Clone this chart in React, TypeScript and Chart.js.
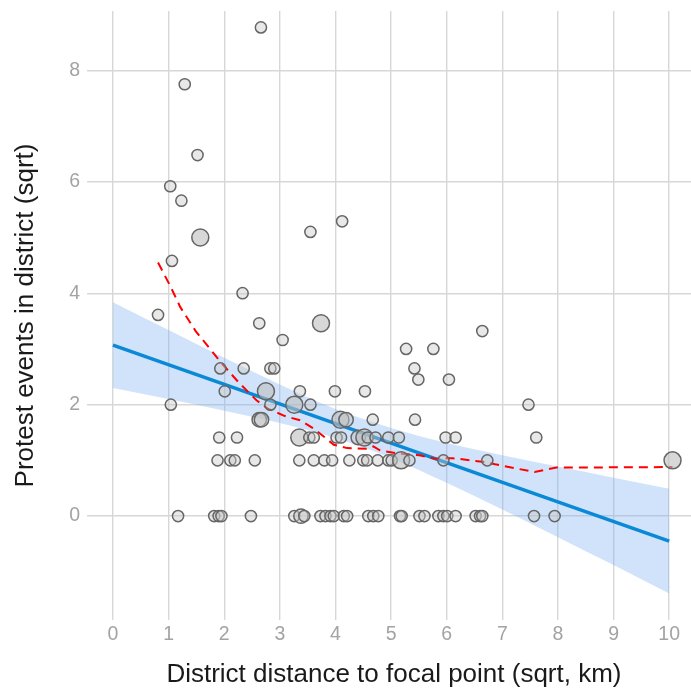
import { useEffect, useRef } from 'react';
import { Chart, registerables } from 'chart.js';

Chart.register(...registerables);

const FONT = "'Liberation Sans', Arial, sans-serif";

const xTicks = [0, 1, 2, 3, 4, 5, 6, 7, 8, 9, 10];
const yTicks = [0, 2, 4, 6, 8];

// districts: distance (sqrt km), protest events (sqrt), weight class (1 small .. 3 large)
const pointX = [
  2.66, 1.29, 1.52, 1.03, 1.23, 4.12, 3.55, 1.57, 1.06, 2.33, 0.81, 2.63, 3.74, 6.64, 3.05,
  5.27, 5.76,
  1.93, 2.35, 2.83, 2.90, 5.42,
  5.49, 6.04,
  2.01, 2.75, 3.36, 3.99, 4.53,
  1.04, 2.83, 3.26, 3.55, 7.47,
  2.63, 2.67, 4.09, 4.19, 4.67, 5.43,
  1.91, 2.23, 3.35, 3.53, 3.61, 4.02, 4.10, 4.41, 4.52, 4.58, 4.72, 4.95, 5.14, 5.98, 6.16, 7.61,
  1.88, 2.11, 2.19, 2.55, 3.35, 3.61, 3.80, 3.94, 4.25, 4.50, 4.57, 4.76, 4.95, 5.01, 5.18, 5.33, 5.94, 6.73, 10.06,
  1.17, 1.82, 1.90, 1.95, 2.48, 3.26, 3.38, 3.44, 3.73, 3.82, 3.91, 3.97, 4.15, 4.21, 4.59, 4.68, 4.77,
  5.16, 5.19, 5.51, 5.60, 5.85, 5.94, 6.01, 6.16, 6.52, 6.60, 6.64, 7.57, 7.94,
];
const pointY = [
  8.77, 7.75, 6.48, 5.92, 5.66, 5.29, 5.10, 5.00, 4.58, 4.00, 3.61, 3.46, 3.46, 3.32, 3.16,
  3.00, 3.00,
  2.65, 2.65, 2.65, 2.65, 2.65,
  2.45, 2.45,
  2.24, 2.24, 2.24, 2.24, 2.24,
  2.00, 2.00, 2.00, 2.00, 2.00,
  1.73, 1.73, 1.73, 1.73, 1.73, 1.73,
  1.41, 1.41, 1.41, 1.41, 1.41, 1.41, 1.41, 1.41, 1.41, 1.41, 1.41, 1.41, 1.41, 1.41, 1.41, 1.41,
  1, 1, 1, 1, 1, 1, 1, 1, 1, 1, 1, 1, 1, 1, 1, 1, 1, 1, 1,
  0, 0, 0, 0, 0, 0, 0, 0, 0, 0, 0, 0, 0, 0, 0, 0, 0,
  0, 0, 0, 0, 0, 0, 0, 0, 0, 0, 0, 0, 0,
];
const pointWeight = [
  1, 1, 1, 1, 1, 1, 1, 3, 1, 1, 1, 1, 3, 1, 1,
  1, 1,
  1, 1, 1, 1, 1,
  1, 1,
  1, 3, 1, 1, 1,
  1, 1, 3, 1, 1,
  2, 2, 3, 2, 1, 1,
  1, 1, 3, 1, 1, 1, 1, 2, 3, 1, 1, 1, 1, 1, 1, 1,
  1, 1, 1, 1, 1, 1, 1, 1, 1, 1, 1, 1, 1, 1, 3, 1, 1, 1, 3,
  1, 1, 1, 1, 1, 1, 2, 1, 1, 1, 1, 1, 1, 1, 1, 1, 1,
  1, 1, 1, 1, 1, 1, 1, 1, 1, 1, 1, 1, 1,
];

// linear fit and its confidence band
const fitX = [0, 10];
const fitY = [3.07, -0.45];
const bandX = [0, 1, 2, 3, 4, 5, 6, 7, 8, 9, 10];
const bandUpper = [3.84, 3.34, 2.84, 2.36, 1.92, 1.58, 1.31, 1.09, 0.89, 0.69, 0.49];
const bandLower = [2.30, 2.10, 1.89, 1.67, 1.40, 1.04, 0.60, 0.12, -0.38, -0.88, -1.39];

// local smoother (dashed red)
const loessX = [0.81, 1.04, 1.21, 1.48, 1.60, 1.93, 2.25, 2.58, 2.78, 3.08, 3.36, 3.61, 3.80, 3.97, 4.21, 4.56, 4.68, 4.80, 5.15, 5.51, 5.80, 6.10, 6.69, 6.87, 7.58, 7.97, 10.06];
const loessY = [4.55, 4.11, 3.75, 3.33, 3.18, 2.77, 2.41, 2.08, 1.93, 1.80, 1.72, 1.57, 1.42, 1.28, 1.22, 1.21, 1.25, 1.18, 1.12, 1.09, 1.03, 1.04, 0.97, 0.93, 0.79, 0.87, 0.88];

const radiusByWeight = [0, 5.6, 7.2, 8.5];
const fillByWeight = ['', 'rgba(200,200,200,0.42)', 'rgba(195,195,195,0.5)', 'rgba(190,190,190,0.6)'];

const zip = (xs: number[], ys: number[]) => xs.map((x, i) => ({ x, y: ys[i] }));

export default function App() {
  const ref = useRef<HTMLCanvasElement>(null);

  useEffect(() => {
    const canvas = ref.current;
    if (!canvas) return;
    const chart = new Chart(canvas, {
      type: 'line',
      data: {
        datasets: [
          {
            label: 'districts',
            data: zip(pointX, pointY),
            showLine: false,
            pointRadius: pointWeight.map((w) => radiusByWeight[w]),
            pointBackgroundColor: pointWeight.map((w) => fillByWeight[w]),
            pointBorderColor: '#666666',
            pointBorderWidth: 1.5,
            pointHoverRadius: pointWeight.map((w) => radiusByWeight[w]),
          },
          {
            label: 'smooth',
            data: zip(loessX, loessY),
            borderColor: '#ff0000',
            borderWidth: 2,
            borderDash: [9, 6],
            pointRadius: 0,
            tension: 0,
            fill: false,
          },
          {
            label: 'fit',
            data: zip(fitX, fitY),
            borderColor: '#0a89d6',
            borderWidth: 3.5,
            pointRadius: 0,
            tension: 0,
            fill: false,
          },
          {
            label: 'upper',
            data: zip(bandX, bandUpper),
            borderWidth: 0,
            borderColor: 'rgba(0,0,0,0)',
            pointRadius: 0,
            cubicInterpolationMode: 'monotone',
            fill: false,
          },
          {
            label: 'lower',
            data: zip(bandX, bandLower),
            borderWidth: 0,
            borderColor: 'rgba(0,0,0,0)',
            backgroundColor: 'rgba(120,175,240,0.35)',
            pointRadius: 0,
            cubicInterpolationMode: 'monotone',
            fill: '-1',
          },
        ],
      },
      options: {
        animation: false,
        responsive: false,
        layout: { padding: { top: 11, left: 0, right: 0, bottom: 0 } },
        plugins: {
          legend: { display: false },
          tooltip: { enabled: false },
        },
        events: [],
        scales: {
          x: {
            type: 'linear',
            min: -0.467,
            max: 10.57,
            afterBuildTicks: (s: any) => {
              s.ticks = xTicks.map((v) => ({ value: v }));
            },
            afterFit: (s: any) => {
              s.height = 73;
              s.paddingLeft = 0;
              s.paddingRight = 0;
            },
            grid: { color: '#d7d7d7', lineWidth: 1.4, drawTicks: false },
            border: { display: false },
            ticks: {
              color: '#a3a3a3',
              font: { family: FONT, size: 19.5 },
              padding: 3,
              autoSkip: false,
              maxRotation: 0,
            },
            title: {
              display: true,
              text: 'District distance to focal point (sqrt, km)',
              color: '#1a1a1a',
              font: { family: FONT, size: 26 },
              padding: { top: 0, bottom: 3 },
            },
          },
          y: {
            type: 'linear',
            min: -1.865,
            max: 9.065,
            afterBuildTicks: (s: any) => {
              s.ticks = yTicks.map((v) => ({ value: v }));
            },
            afterFit: (s: any) => {
              s.width = 87;
              s.paddingTop = 0;
              s.paddingBottom = 0;
            },
            grid: { color: '#d7d7d7', lineWidth: 1.4, drawTicks: false },
            border: { display: false },
            ticks: {
              color: '#a3a3a3',
              font: { family: FONT, size: 19.5 },
              padding: 7,
            },
            title: {
              display: true,
              text: 'Protest events in district (sqrt)',
              color: '#1a1a1a',
              font: { family: FONT, size: 26 },
              padding: { top: 10, bottom: 0 },
            },
          },
        },
      },
    } as any);
    return () => chart.destroy();
  }, []);

  return (
    <div style={{ position: 'absolute', left: 0, top: 0, width: 691, height: 693, overflow: 'hidden' }}>
      <canvas ref={ref} width={708} height={693} style={{ display: 'block' }} />
    </div>
  );
}
